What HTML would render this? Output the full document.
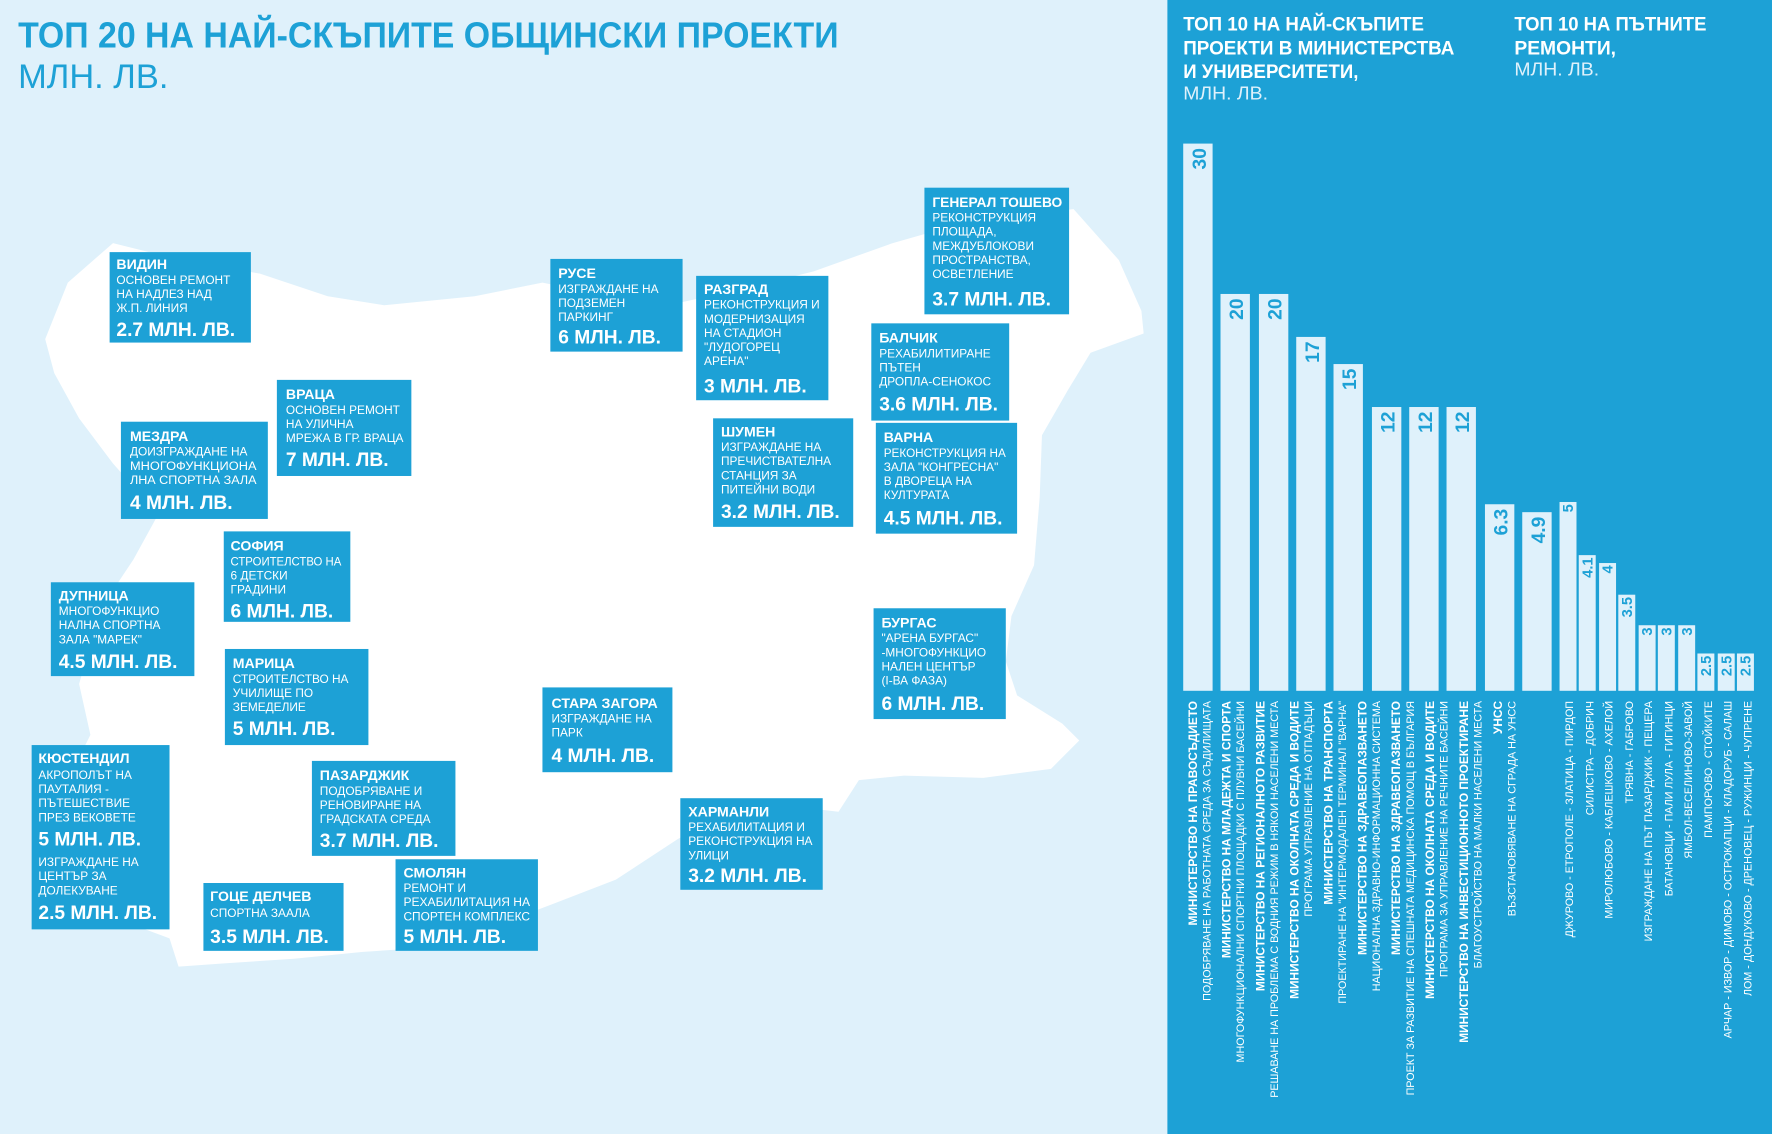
<!DOCTYPE html>
<html><head><meta charset="utf-8"><style>
html,body{margin:0;padding:0;background:#dff1fb;}
svg{display:block;}
text{font-family:"Liberation Sans Narrow","Liberation Sans","Noto Sans CJK SC",sans-serif;}
.n{font-weight:bold;font-size:12.5px;fill:#fff;}
.d{font-size:10.5px;fill:#fff;}
.a{font-weight:bold;font-size:17px;fill:#fff;}
.b{fill:#1da1d6;}
.v{font-weight:bold;font-size:17px;fill:#1da1d6;}
.lb{font-weight:bold;font-size:10.5px;fill:#fff;}
.ll{font-size:9.5px;fill:#fff;}
</style></head><body>
<svg width="1772" height="1134" viewBox="0 0 1568 1003" preserveAspectRatio="none" xmlns="http://www.w3.org/2000/svg">
<rect width="1568" height="1003" fill="#dff1fb"/>
<path fill="#fff" d="M60,250 L100,215 L160,230 L230,242 L290,262 L340,270 L420,262 L480,250 L520,258 L600,268 L660,255 L720,240 L790,215 L860,195 L950,185 L990,230 L1010,275 L1012,295 L965,312 L945,345 L922,385 L920,440 L915,500 L895,545 L890,585 L900,615 L940,640 L955,655 L930,680 L870,688 L800,686 L760,690 L742,718 L690,712 L640,722 L600,742 L545,778 L488,800 L430,822 L380,838 L320,842 L260,848 L200,852 L158,855 L150,830 L110,815 L65,795 L50,740 L60,690 L80,650 L70,605 L88,540 L118,495 L140,455 L100,410 L70,370 L48,330 L40,300 Z"/>
<text x="16" y="42" font-weight="bold" font-size="32" fill="#1da1d6" textLength="726" lengthAdjust="spacingAndGlyphs">ТОП 20 НА НАЙ-СКЪПИТЕ ОБЩИНСКИ ПРОЕКТИ</text>
<text x="16" y="78" font-size="30" fill="#1da1d6" textLength="133" lengthAdjust="spacingAndGlyphs">МЛН. ЛВ.</text>

<g>
<rect class="b" x="97" y="223" width="125" height="80"/>
<text class="n" x="103" y="238">ВИДИН</text>
<text class="d" x="103" y="251">ОСНОВЕН РЕМОНТ</text><text class="d" x="103" y="263.5">НА НАДЛЕЗ НАД</text><text class="d" x="103" y="276">Ж.П. ЛИНИЯ</text>
<text class="a" x="103" y="297">2.7 МЛН. ЛВ.</text>

<rect class="b" x="487" y="229" width="117" height="82"/>
<text class="n" x="494" y="246">РУСЕ</text>
<text class="d" x="494" y="259">ИЗГРАЖДАНЕ НА</text><text class="d" x="494" y="271.5">ПОДЗЕМЕН</text><text class="d" x="494" y="284">ПАРКИНГ</text>
<text class="a" x="494" y="304">6 МЛН. ЛВ.</text>

<rect class="b" x="616" y="244" width="117" height="110"/>
<text class="n" x="623" y="260">РАЗГРАД</text>
<text class="d" x="623" y="273">РЕКОНСТРУКЦИЯ И</text><text class="d" x="623" y="285.5">МОДЕРНИЗАЦИЯ</text><text class="d" x="623" y="298">НА СТАДИОН</text><text class="d" x="623" y="310.5">"ЛУДОГОРЕЦ</text><text class="d" x="623" y="323">АРЕНА"</text>
<text class="a" x="623" y="347">3 МЛН. ЛВ.</text>

<rect class="b" x="818" y="166" width="128" height="112"/>
<text class="n" x="825" y="183" textLength="115" lengthAdjust="spacingAndGlyphs">ГЕНЕРАЛ ТОШЕВО</text>
<text class="d" x="825" y="196">РЕКОНСТРУКЦИЯ</text><text class="d" x="825" y="208.5">ПЛОЩАДА,</text><text class="d" x="825" y="221">МЕЖДУБЛОКОВИ</text><text class="d" x="825" y="233.5">ПРОСТРАНСТВА,</text><text class="d" x="825" y="246">ОСВЕТЛЕНИЕ</text>
<text class="a" x="825" y="270">3.7 МЛН. ЛВ.</text>

<rect class="b" x="771" y="286" width="122" height="86"/>
<text class="n" x="778" y="303">БАЛЧИК</text>
<text class="d" x="778" y="316">РЕХАБИЛИТИРАНЕ</text><text class="d" x="778" y="328.5">ПЪТЕН</text><text class="d" x="778" y="341">ДРОПЛА-СЕНОКОС</text>
<text class="a" x="778" y="363">3.6 МЛН. ЛВ.</text>

<rect class="b" x="245" y="336" width="119" height="85"/>
<text class="n" x="253" y="353">ВРАЦА</text>
<text class="d" x="253" y="366">ОСНОВЕН РЕМОНТ</text><text class="d" x="253" y="378.5">НА УЛИЧНА</text><text class="d" x="253" y="391" textLength="104" lengthAdjust="spacingAndGlyphs">МРЕЖА В ГР. ВРАЦА</text>
<text class="a" x="253" y="412">7 МЛН. ЛВ.</text>

<rect class="b" x="107" y="373" width="130" height="86"/>
<text class="n" x="115" y="390">МЕЗДРА</text>
<text class="d" x="115" y="403">ДОИЗГРАЖДАНЕ НА</text><text class="d" x="115" y="415.5" textLength="112" lengthAdjust="spacingAndGlyphs">МНОГОФУНКЦИОНА</text><text class="d" x="115" y="428" textLength="112" lengthAdjust="spacingAndGlyphs">ЛНА СПОРТНА ЗАЛА</text>
<text class="a" x="115" y="450">4 МЛН. ЛВ.</text>

<rect class="b" x="631" y="370" width="124" height="96"/>
<text class="n" x="638" y="386">ШУМЕН</text>
<text class="d" x="638" y="399">ИЗГРАЖДАНЕ НА</text><text class="d" x="638" y="411.5">ПРЕЧИСТВАТЕЛНА</text><text class="d" x="638" y="424">СТАНЦИЯ ЗА</text><text class="d" x="638" y="436.5">ПИТЕЙНИ ВОДИ</text>
<text class="a" x="638" y="458">3.2 МЛН. ЛВ.</text>

<rect class="b" x="775" y="374" width="125" height="98"/>
<text class="n" x="782" y="391">ВАРНА</text>
<text class="d" x="782" y="404" textLength="108" lengthAdjust="spacingAndGlyphs">РЕКОНСТРУКЦИЯ НА</text><text class="d" x="782" y="416.5">ЗАЛА "КОНГРЕСНА"</text><text class="d" x="782" y="429">В ДВОРЕЦА НА</text><text class="d" x="782" y="441.5">КУЛТУРАТА</text>
<text class="a" x="782" y="464">4.5 МЛН. ЛВ.</text>

<rect class="b" x="198" y="470" width="112" height="80"/>
<text class="n" x="204" y="487">СОФИЯ</text>
<text class="d" x="204" y="500" textLength="98" lengthAdjust="spacingAndGlyphs">СТРОИТЕЛСТВО НА</text><text class="d" x="204" y="512.5">6 ДЕТСКИ</text><text class="d" x="204" y="525">ГРАДИНИ</text>
<text class="a" x="204" y="546">6 МЛН. ЛВ.</text>

<rect class="b" x="45" y="515" width="127" height="83"/>
<text class="n" x="52" y="531">ДУПНИЦА</text>
<text class="d" x="52" y="544">МНОГОФУНКЦИО</text><text class="d" x="52" y="556.5">НАЛНА СПОРТНА</text><text class="d" x="52" y="569">ЗАЛА "МАРЕК"</text>
<text class="a" x="52" y="591">4.5 МЛН. ЛВ.</text>

<rect class="b" x="773" y="538" width="117" height="98"/>
<text class="n" x="780" y="555">БУРГАС</text>
<text class="d" x="780" y="568">"АРЕНА БУРГАС"</text><text class="d" x="780" y="580.5">-МНОГОФУНКЦИО</text><text class="d" x="780" y="593">НАЛЕН ЦЕНТЪР</text><text class="d" x="780" y="605.5">(I-ВА ФАЗА)</text>
<text class="a" x="780" y="628">6 МЛН. ЛВ.</text>

<rect class="b" x="199" y="574" width="127" height="85"/>
<text class="n" x="206" y="591">МАРИЦА</text>
<text class="d" x="206" y="604">СТРОИТЕЛСТВО НА</text><text class="d" x="206" y="616.5">УЧИЛИЩЕ ПО</text><text class="d" x="206" y="629">ЗЕМЕДЕЛИЕ</text>
<text class="a" x="206" y="650">5 МЛН. ЛВ.</text>

<rect class="b" x="480" y="608" width="115" height="75"/>
<text class="n" x="488" y="626">СТАРА ЗАГОРА</text>
<text class="d" x="488" y="639">ИЗГРАЖДАНЕ НА</text><text class="d" x="488" y="651.5">ПАРК</text>
<text class="a" x="488" y="674">4 МЛН. ЛВ.</text>

<rect class="b" x="28" y="659" width="122" height="163"/>
<text class="n" x="34" y="675">КЮСТЕНДИЛ</text>
<text class="d" x="34" y="689">АКРОПОЛЪТ НА</text><text class="d" x="34" y="701.5">ПАУТАЛИЯ -</text><text class="d" x="34" y="714">ПЪТЕШЕСТВИЕ</text><text class="d" x="34" y="726.5">ПРЕЗ ВЕКОВЕТЕ</text>
<text class="a" x="34" y="748">5 МЛН. ЛВ.</text>
<text class="d" x="34" y="766">ИЗГРАЖДАНЕ НА</text><text class="d" x="34" y="778.5">ЦЕНТЪР ЗА</text><text class="d" x="34" y="791">ДОЛЕКУВАНЕ</text>
<text class="a" x="34" y="813">2.5 МЛН. ЛВ.</text>

<rect class="b" x="276" y="673" width="127" height="84"/>
<text class="n" x="283" y="690">ПАЗАРДЖИК</text>
<text class="d" x="283" y="703">ПОДОБРЯВАНЕ И</text><text class="d" x="283" y="715.5">РЕНОВИРАНЕ НА</text><text class="d" x="283" y="728">ГРАДСКАТА СРЕДА</text>
<text class="a" x="283" y="749">3.7 МЛН. ЛВ.</text>

<rect class="b" x="602" y="706" width="126" height="81"/>
<text class="n" x="609" y="722">ХАРМАНЛИ</text>
<text class="d" x="609" y="735">РЕХАБИЛИТАЦИЯ И</text><text class="d" x="609" y="747.5" textLength="110" lengthAdjust="spacingAndGlyphs">РЕКОНСТРУКЦИЯ НА</text><text class="d" x="609" y="760">УЛИЦИ</text>
<text class="a" x="609" y="780">3.2 МЛН. ЛВ.</text>

<rect class="b" x="350" y="760" width="126" height="81"/>
<text class="n" x="357" y="776">СМОЛЯН</text>
<text class="d" x="357" y="789">РЕМОНТ И</text><text class="d" x="357" y="801.5" textLength="112" lengthAdjust="spacingAndGlyphs">РЕХАБИЛИТАЦИЯ НА</text><text class="d" x="357" y="814" textLength="112" lengthAdjust="spacingAndGlyphs">СПОРТЕН КОМПЛЕКС</text>
<text class="a" x="357" y="834">5 МЛН. ЛВ.</text>

<rect class="b" x="180" y="781" width="124" height="60"/>
<text class="n" x="186" y="797">ГОЦЕ ДЕЛЧЕВ</text>
<text class="d" x="186" y="811">СПОРТНА ЗААЛА</text>
<text class="a" x="186" y="834">3.5 МЛН. ЛВ.</text>
</g>

<rect x="1033" y="0" width="535" height="1003" fill="#1da1d6"/>
<g font-weight="bold" font-size="17" fill="#fff">
<text x="1047" y="27" textLength="213" lengthAdjust="spacingAndGlyphs">ТОП 10 НА НАЙ-СКЪПИТЕ</text>
<text x="1047" y="48" textLength="240" lengthAdjust="spacingAndGlyphs">ПРОЕКТИ В МИНИСТЕРСТВА</text>
<text x="1047" y="69" textLength="155" lengthAdjust="spacingAndGlyphs">И УНИВЕРСИТЕТИ,</text>
<text x="1340" y="27" textLength="170" lengthAdjust="spacingAndGlyphs">ТОП 10 НА ПЪТНИТЕ</text>
<text x="1340" y="48" textLength="90" lengthAdjust="spacingAndGlyphs">РЕМОНТИ,</text>
</g>
<text x="1047" y="88" font-size="16" fill="#dff1fb" textLength="75" lengthAdjust="spacingAndGlyphs">МЛН. ЛВ.</text>
<text x="1340" y="67" font-size="16" fill="#dff1fb" textLength="75" lengthAdjust="spacingAndGlyphs">МЛН. ЛВ.</text>

<g fill="#dff1fb">
<rect x="1047" y="127" width="26" height="484"/>
<rect x="1080" y="260" width="26" height="351"/>
<rect x="1114" y="260" width="26" height="351"/>
<rect x="1147" y="298" width="26" height="313"/>
<rect x="1180" y="322" width="26" height="289"/>
<rect x="1214" y="360" width="26" height="251"/>
<rect x="1247" y="360" width="26" height="251"/>
<rect x="1280" y="360" width="26" height="251"/>
<rect x="1314" y="446" width="26" height="165"/>
<rect x="1347" y="453" width="26" height="158"/>
<rect x="1380" y="444" width="15" height="167"/>
<rect x="1397" y="491" width="15" height="120"/>
<rect x="1415" y="498" width="15" height="113"/>
<rect x="1432" y="526" width="15" height="85"/>
<rect x="1450" y="553" width="15" height="58"/>
<rect x="1467" y="553" width="15" height="58"/>
<rect x="1485" y="553" width="15" height="58"/>
<rect x="1502" y="578" width="15" height="33"/>
<rect x="1520" y="578" width="15" height="33"/>
<rect x="1537" y="578" width="15" height="33"/>
</g>
<g class="v" font-weight="bold" fill="#1da1d6" font-size="17">
<text transform="translate(1067,131) rotate(-90)" text-anchor="end">30</text>
<text transform="translate(1100,264) rotate(-90)" text-anchor="end">20</text>
<text transform="translate(1134,264) rotate(-90)" text-anchor="end">20</text>
<text transform="translate(1167,302) rotate(-90)" text-anchor="end">17</text>
<text transform="translate(1200,326) rotate(-90)" text-anchor="end">15</text>
<text transform="translate(1234,364) rotate(-90)" text-anchor="end">12</text>
<text transform="translate(1267,364) rotate(-90)" text-anchor="end">12</text>
<text transform="translate(1300,364) rotate(-90)" text-anchor="end">12</text>
<text transform="translate(1334,450) rotate(-90)" text-anchor="end">6.3</text>
<text transform="translate(1367,457) rotate(-90)" text-anchor="end">4.9</text>
</g>
<g font-weight="bold" fill="#1da1d6" font-size="13">
<text transform="translate(1392,446) rotate(-90)" text-anchor="end">5</text>
<text transform="translate(1409,493) rotate(-90)" text-anchor="end">4.1</text>
<text transform="translate(1427,500) rotate(-90)" text-anchor="end">4</text>
<text transform="translate(1444,528) rotate(-90)" text-anchor="end">3.5</text>
<text transform="translate(1462,555) rotate(-90)" text-anchor="end">3</text>
<text transform="translate(1479,555) rotate(-90)" text-anchor="end">3</text>
<text transform="translate(1497,555) rotate(-90)" text-anchor="end">3</text>
<text transform="translate(1514,580) rotate(-90)" text-anchor="end">2.5</text>
<text transform="translate(1532,580) rotate(-90)" text-anchor="end">2.5</text>
<text transform="translate(1549,580) rotate(-90)" text-anchor="end">2.5</text>
</g>

<g text-anchor="end">
<text class="lb" transform="translate(1059,620) rotate(-90)">МИНИСТЕРСТВО НА ПРАВОСЪДИЕТО</text>
<text class="ll" transform="translate(1071,620) rotate(-90)">ПОДОБРЯВАНЕ НА РАБОТНАТА СРЕДА ЗА СЪДИЛИЩАТА</text>
<text class="lb" transform="translate(1089,620) rotate(-90)">МИНИСТЕРСТВО НА МЛАДЕЖТА И СПОРТА</text>
<text class="ll" transform="translate(1101,620) rotate(-90)">МНОГОФУНКЦИОНАЛНИ СПОРТНИ ПЛОЩАДКИ С ПЛУВНИ БАСЕЙНИ</text>
<text class="lb" transform="translate(1119,620) rotate(-90)">МИНИСТЕРСТВО НА РЕГИОНАЛНОТО РАЗВИТИЕ</text>
<text class="ll" transform="translate(1131,620) rotate(-90)">РЕШАВАНЕ НА ПРОБЛЕМА С ВОДНИЯ РЕЖИМ В НЯКОИ НАСЕЛЕНИ МЕСТА</text>
<text class="lb" transform="translate(1149,620) rotate(-90)">МИНИСТЕРСТВО НА ОКОЛНАТА СРЕДА И ВОДИТЕ</text>
<text class="ll" transform="translate(1161,620) rotate(-90)">ПРОГРАМА УПРАВЛЕНИЕ НА ОТПАДЪЦИ</text>
<text class="lb" transform="translate(1179,620) rotate(-90)">МИНИСТЕРСТВО НА ТРАНСПОРТА</text>
<text class="ll" transform="translate(1191,620) rotate(-90)">ПРОЕКТИРАНЕ НА "ИНТЕРМОДАЛЕН ТЕРМИНАЛ "ВАРНА"</text>
<text class="lb" transform="translate(1209,620) rotate(-90)">МИНИСТЕРСТВО НА ЗДРАВЕОПАЗВАНЕТО</text>
<text class="ll" transform="translate(1221,620) rotate(-90)">НАЦИОНАЛНА ЗДРАВНО-ИНФОРМАЦИОННА СИСТЕМА</text>
<text class="lb" transform="translate(1239,620) rotate(-90)">МИНИСТЕРСТВО НА ЗДРАВЕОПАЗВАНЕТО</text>
<text class="ll" transform="translate(1251,620) rotate(-90)">ПРОЕКТ ЗА РАЗВИТИЕ НА СПЕШНАТА МЕДИЦИНСКА ПОМОЩ В БЪЛГАРИЯ</text>
<text class="lb" transform="translate(1269,620) rotate(-90)">МИНИСТЕРСТВО НА ОКОЛНАТА СРЕДА И ВОДИТЕ</text>
<text class="ll" transform="translate(1281,620) rotate(-90)">ПРОГРАМА ЗА УПРАВЛЕНИЕ НА РЕЧНИТЕ БАСЕЙНИ</text>
<text class="lb" transform="translate(1299,620) rotate(-90)">МИНИСТЕРСТВО НА ИНВЕСТИЦИОННОТО ПРОЕКТИРАНЕ</text>
<text class="ll" transform="translate(1311,620) rotate(-90)">БЛАГОУСТРОЙСТВО НА МАЛКИ НАСЕЛЕНИ МЕСТА</text>
<text class="lb" transform="translate(1329,620) rotate(-90)">УНСС</text>
<text class="ll" transform="translate(1341,620) rotate(-90)">ВЪЗСТАНОВЯВАНЕ НА СГРАДА НА УНСС</text>

<text class="ll" transform="translate(1392,620) rotate(-90)">ДЖУРОВО - ЕТРОПОЛЕ - ЗЛАТИЦА - ПИРДОП</text>
<text class="ll" transform="translate(1410,620) rotate(-90)">СИЛИСТРА – ДОБРИЧ</text>
<text class="ll" transform="translate(1427,620) rotate(-90)">МИРОЛЮБОВО - КАБЛЕШКОВО - АХЕЛОЙ</text>
<text class="ll" transform="translate(1445,620) rotate(-90)">ТРЯВНА - ГАБРОВО</text>
<text class="ll" transform="translate(1462,620) rotate(-90)">ИЗГРАЖДАНЕ НА ПЪТ ПАЗАРДЖИК - ПЕЩЕРА</text>
<text class="ll" transform="translate(1480,620) rotate(-90)">БАТАНОВЦИ - ПАЛИ ЛУЛА - ГИГИНЦИ</text>
<text class="ll" transform="translate(1497,620) rotate(-90)">ЯМБОЛ-ВЕСЕЛИНОВО-ЗАВОЙ</text>
<text class="ll" transform="translate(1515,620) rotate(-90)">ПАМПОРОВО - СТОЙКИТЕ</text>
<text class="ll" transform="translate(1532,620) rotate(-90)">АРЧАР - ИЗВОР - ДИМОВО - ОСТРОКАПЦИ - КЛАДОРУБ - САЛАШ</text>
<text class="ll" transform="translate(1550,620) rotate(-90)">ЛОМ - ДОНДУКОВО - ДРЕНОВЕЦ - РУЖИНЦИ - ЧУПРЕНЕ</text>
</g>
</svg>
</body></html>
